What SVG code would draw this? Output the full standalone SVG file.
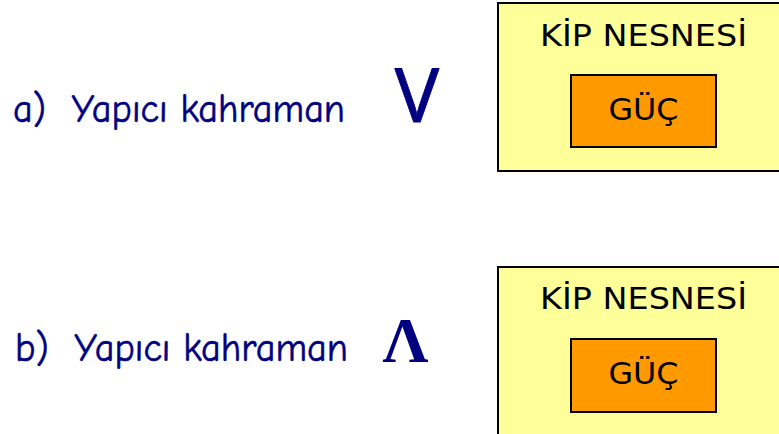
<svg xmlns="http://www.w3.org/2000/svg" width="779" height="434" viewBox="0 0 779 434">
<style>
.lbl{font-family:"Comic Sans MS","Comic Neue","Noto Sans",sans-serif;font-size:40px;fill:#000080;stroke:#000080;stroke-width:0.6}
.outer{fill:#FFFF99;stroke:#000;stroke-width:2}
.inner{fill:#FF9900;stroke:#000;stroke-width:2}
.t{font-family:Verdana,"DejaVu Sans",sans-serif;font-size:31px;fill:#000;text-anchor:middle}
</style>
<rect width="779" height="434" fill="#fff"/>
<g id="label-a">
<text class="lbl" x="13" y="122" textLength="332" lengthAdjust="spacingAndGlyphs" xml:space="preserve">a)  Yapıcı kahraman</text>
<text x="417" y="122" font-family="'Noto Sans',sans-serif" font-size="74" fill="#000080" stroke="#000080" stroke-width="0.8" stroke-linejoin="round" text-anchor="middle">V</text>
</g>
<g id="node-a">
<rect class="outer" x="498" y="3" width="300" height="168"/>
<text class="t" x="643.5" y="46" textLength="207" lengthAdjust="spacingAndGlyphs">KİP NESNESİ</text>
<g id="node-a-guc">
<rect class="inner" x="571" y="75" width="145" height="72"/>
<text class="t" x="643.5" y="120" textLength="70" lengthAdjust="spacingAndGlyphs">GÜÇ</text>
</g>
</g>
<g id="label-b">
<text class="lbl" x="15" y="361" textLength="333" lengthAdjust="spacingAndGlyphs" xml:space="preserve">b)  Yapıcı kahraman</text>
<text x="405.5" y="362" font-family="'Liberation Serif',serif" font-size="64" font-weight="bold" fill="#000080" text-anchor="middle">Λ</text>
</g>
<g id="node-b">
<rect class="outer" x="498" y="267" width="300" height="200"/>
<text class="t" x="643.5" y="309" textLength="207" lengthAdjust="spacingAndGlyphs">KİP NESNESİ</text>
<g id="node-b-guc">
<rect class="inner" x="571" y="339" width="145" height="73"/>
<text class="t" x="643.5" y="384" textLength="70" lengthAdjust="spacingAndGlyphs">GÜÇ</text>
</g>
</g>
<g id="connectors"></g>
</svg>
